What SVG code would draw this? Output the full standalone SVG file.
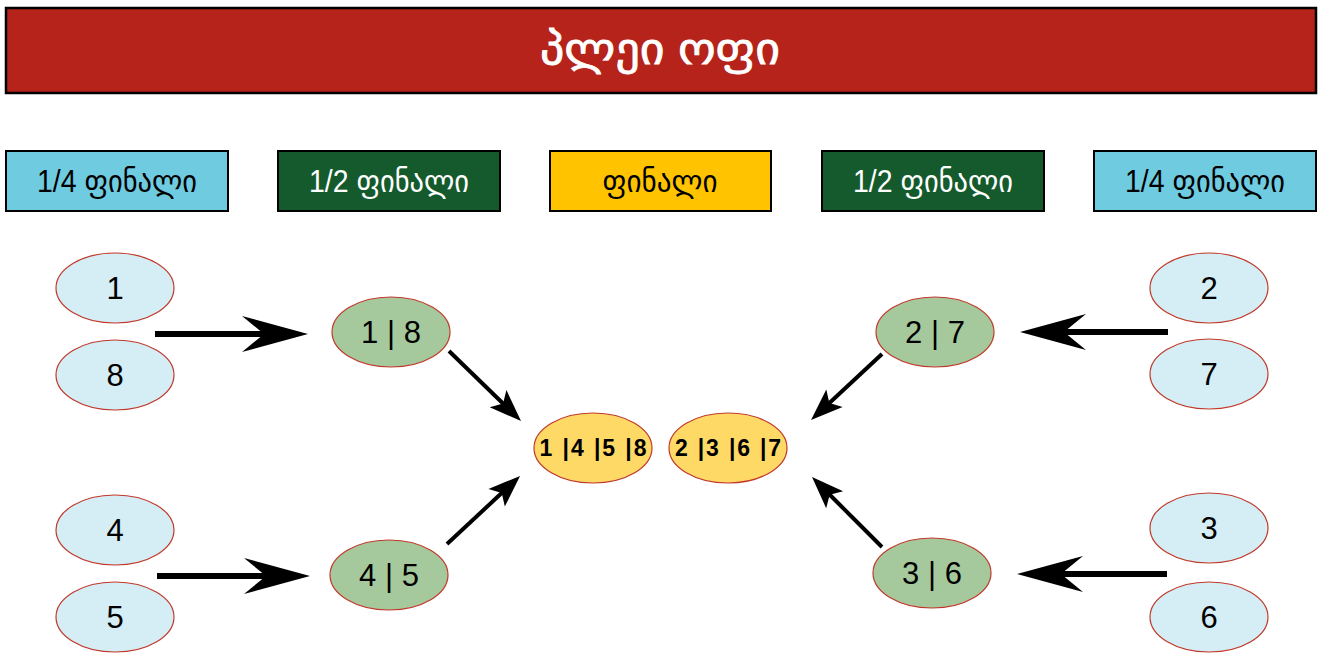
<svg xmlns="http://www.w3.org/2000/svg" width="1323" height="653" viewBox="0 0 1323 653">
<style>
text{font-family:"Liberation Sans","DejaVu Sans",sans-serif;text-anchor:middle}
.hdr{stroke:#000;stroke-width:2}
.ht{font-size:31px}
.q{fill:#D5EEF5;stroke:#C0392B;stroke-width:1.2}
.s{fill:#A5C99C;stroke:#C0392B;stroke-width:1.2}
.f{fill:#FFD966;stroke:#C0392B;stroke-width:1.2}
.n{font-size:31px;fill:#000}
.fn{font-size:23px;font-weight:bold;fill:#000}
.thick{stroke:#000;stroke-width:6;fill:none}
.thin{stroke:#000;stroke-width:4;fill:none}
</style>
<defs>
<marker id="bigHead" markerUnits="userSpaceOnUse" overflow="visible" orient="auto" refX="0" refY="0" markerWidth="10" markerHeight="10">
<path d="M42,0 L-24,-18 L-2,0 L-24,18 Z" fill="#000"/>
</marker>
<marker id="smallHead" markerUnits="userSpaceOnUse" overflow="visible" orient="auto" refX="0" refY="0" markerWidth="10" markerHeight="10">
<path d="M24,0 L-8,-12 L-1,0 L-8,12 Z" fill="#000"/>
</marker>
</defs>
<rect width="1323" height="653" fill="#fff"/>
<g id="title">
<rect x="6" y="8" width="1310" height="85" fill="#B5231A" stroke="#000" stroke-width="2.5"/>
<text x="660" y="64" font-size="44" fill="#fff" stroke="#fff" stroke-width="0.8" textLength="240" lengthAdjust="spacingAndGlyphs">პლეი ოფი</text>
</g>
<g id="h1"><rect class="hdr" x="6" y="151" width="222" height="60" fill="#6FCBE0"/><text class="ht" x="117" y="192" fill="#000" textLength="160" lengthAdjust="spacingAndGlyphs">1/4 ფინალი</text></g>
<g id="h2"><rect class="hdr" x="278" y="151" width="222" height="60" fill="#155A2C"/><text class="ht" x="389" y="192" fill="#fff" textLength="160" lengthAdjust="spacingAndGlyphs">1/2 ფინალი</text></g>
<g id="h3"><rect class="hdr" x="550" y="151" width="221" height="60" fill="#FFC300"/><text class="ht" x="660" y="192" fill="#000" textLength="115" lengthAdjust="spacingAndGlyphs">ფინალი</text></g>
<g id="h4"><rect class="hdr" x="822" y="151" width="222" height="60" fill="#155A2C"/><text class="ht" x="933" y="192" fill="#fff" textLength="160" lengthAdjust="spacingAndGlyphs">1/2 ფინალი</text></g>
<g id="h5"><rect class="hdr" x="1094" y="151" width="222" height="60" fill="#6FCBE0"/><text class="ht" x="1205" y="192" fill="#000" textLength="160" lengthAdjust="spacingAndGlyphs">1/4 ფინალი</text></g>

<g id="connectors">
<line class="thick" x1="155" y1="334" x2="266" y2="334" marker-end="url(#bigHead)"/>
<line class="thick" x1="157" y1="576" x2="268" y2="576" marker-end="url(#bigHead)"/>
<line class="thick" x1="1168" y1="332" x2="1062" y2="332" marker-end="url(#bigHead)"/>
<line class="thick" x1="1167" y1="574" x2="1059" y2="574" marker-end="url(#bigHead)"/>
<line class="thin" x1="449" y1="351" x2="503.8" y2="404.3" marker-end="url(#smallHead)"/>
<line class="thin" x1="447" y1="544" x2="502.5" y2="492.3" marker-end="url(#smallHead)"/>
<line class="thin" x1="882" y1="354" x2="828.6" y2="403.7" marker-end="url(#smallHead)"/>
<line class="thin" x1="882" y1="547" x2="829" y2="494" marker-end="url(#smallHead)"/>
</g>

<g id="n1"><ellipse class="q" cx="115" cy="288" rx="59" ry="35"/><text class="n" x="115" y="299">1</text></g>
<g id="n8"><ellipse class="q" cx="115" cy="375" rx="59" ry="35"/><text class="n" x="115" y="386">8</text></g>
<g id="n4"><ellipse class="q" cx="115" cy="530" rx="59" ry="35"/><text class="n" x="115" y="541">4</text></g>
<g id="n5"><ellipse class="q" cx="115" cy="617" rx="59" ry="35"/><text class="n" x="115" y="628">5</text></g>
<g id="n2"><ellipse class="q" cx="1209" cy="288" rx="59" ry="35"/><text class="n" x="1209" y="299">2</text></g>
<g id="n7"><ellipse class="q" cx="1209" cy="374" rx="59" ry="35"/><text class="n" x="1209" y="385">7</text></g>
<g id="n3"><ellipse class="q" cx="1209" cy="528" rx="59" ry="35"/><text class="n" x="1209" y="539">3</text></g>
<g id="n6"><ellipse class="q" cx="1209" cy="617" rx="59" ry="35"/><text class="n" x="1209" y="628">6</text></g>

<g id="s18"><ellipse class="s" cx="391" cy="332" rx="59" ry="35"/><text class="n" x="391" y="343">1 | 8</text></g>
<g id="s45"><ellipse class="s" cx="389" cy="575" rx="59" ry="35"/><text class="n" x="389" y="586">4 | 5</text></g>
<g id="s27"><ellipse class="s" cx="935" cy="332" rx="59" ry="35"/><text class="n" x="935" y="343">2 | 7</text></g>
<g id="s36"><ellipse class="s" cx="932" cy="573" rx="59" ry="35"/><text class="n" x="932" y="584">3 | 6</text></g>

<g id="f1458"><ellipse class="f" cx="593" cy="448" rx="59" ry="35"/><text class="fn" x="593" y="456" textLength="107" lengthAdjust="spacing">1 |4 |5 |8</text></g>
<g id="f2367"><ellipse class="f" cx="728" cy="448" rx="59" ry="35"/><text class="fn" x="728" y="456" textLength="106" lengthAdjust="spacing">2 |3 |6 |7</text></g>
</svg>
